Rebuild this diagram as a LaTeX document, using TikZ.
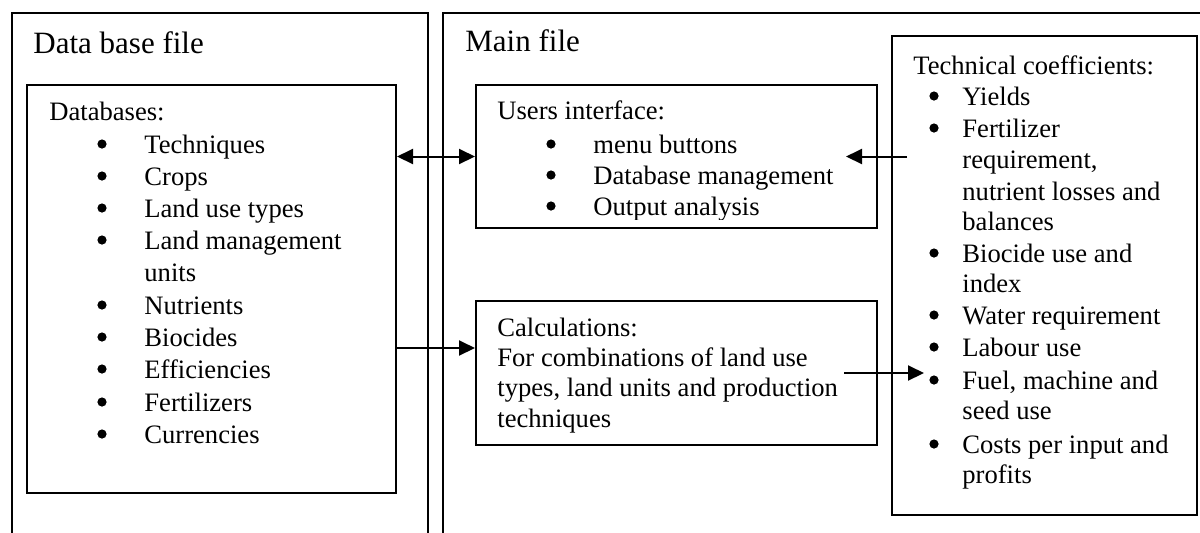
\documentclass[tikz,border=0pt]{standalone}
\usepackage{fontspec}
\setmainfont{Liberation Serif}
\usetikzlibrary{fit,calc,arrows.meta}
\begin{document}
\begin{tikzpicture}[x=0.5pt,y=-0.5pt,
  box/.style={draw, line width=1pt, inner sep=0pt},
  txt/.style={anchor=base west, inner sep=0pt, font=\fontsize{13.3pt}{16pt}\selectfont},
  ttl/.style={anchor=base west, inner sep=0pt, font=\fontsize{15.5pt}{18pt}\selectfont},
  dot/.style={circle, fill=black, inner sep=0pt, minimum size=4.6pt},
  conn/.style={line width=1pt, -{Triangle[length=8pt,width=7.5pt]}},
  connboth/.style={line width=1pt, {Triangle[length=8pt,width=7.5pt]}-{Triangle[length=8pt,width=7.5pt]}}]
\useasboundingbox (0,0) rectangle (1200,532);
\clip (0,0) rectangle (1200,532);

% outer frames
\node[box, fit={(12,13)(428,560)}] (dbfile) {};
\node[box, fit={(443,13)(1230,560)}] (mainfile) {};
\node[ttl] (dbtitle) at (33,53) {Data base file};
\node[ttl] (maintitle) at (465,51) {Main file};

% inner boxes
\node[box, fit={(27,85)(396,493)}] (db) {};
\node[box, fit={(476,85)(877,228)}] (ui) {};
\node[box, fit={(476,301)(877,445)}] (calc) {};
\node[box, fit={(892,36)(1197,515)}] (tc) {};

% Databases text
\node[txt] (dbhead) at (49,120) {Databases:};
\foreach \yy/\bb/\tt [count=\i] in {153/1/Techniques, 185/1/Crops, 217/1/Land use types, 249/1/Land management, 281/0/units, 314/1/Nutrients, 346/1/Biocides, 378/1/Efficiencies, 411/1/Fertilizers, 443/1/Currencies}{
  \node[txt] (dbl\i) at (144,\yy) {\tt};
  \ifnum\bb=1 \node[dot] (dbb\i) at (102,\yy-9) {};\fi
}

% Users interface text (clipped at bottom as in the original)
\begin{scope}
\clip (476,85) rectangle (877,219);
\node[txt] (uihead) at (497,119) {Users interface:};
\foreach \yy/\tt [count=\i] in {153/menu buttons, 184/Database management, 215/Output analysis}{
  \node[txt] (uil\i) at (593,\yy) {\tt};
  \node[dot] (uib\i) at (551,\yy-9) {};
}
\end{scope}

% Calculations text
\node[txt] (calchead) at (497,336) {Calculations:};
\node[txt] (calc1) at (497,366) {For combinations of land use};
\node[txt] (calc2) at (497,396) {types, land units and production};
\node[txt] (calc3) at (497,427) {techniques};

% Technical coefficients text
\node[txt] (tchead) at (913,74) {Technical coefficients:};
\foreach \yy/\bb/\tt [count=\i] in {105/1/Yields, 137/1/Fertilizer, {168/0/{requirement,}}, 200/0/nutrient losses and, 230/0/balances, 262/1/Biocide use and, 292/0/index, 324/1/Water requirement, 356/1/Labour use, {389/1/{Fuel, machine and}}, 419/0/seed use, 453/1/Costs per input and, 483/0/profits}{
  \node[txt] (tcl\i) at (962,\yy) {\tt};
  \ifnum\bb=1 \node[dot] (tcb\i) at (934,\yy-9) {};\fi
}

% connectors
\draw[connboth] (db.east |- ui.west) -- (ui.west);
\coordinate (tcout) at ($(tc.west |- ui.west)+(16,0)$);
\coordinate (uiin) at ($(ui.east)+(-32,0)$);
\draw[conn] (tcout) -- (uiin);
\coordinate (calcin) at ($(calc.north west)+(0,48)$);
\draw[conn] (db.east |- calcin) -- (calcin);
\coordinate (calcout) at ($(calc.east)+(-34,0)$);
\coordinate (tcin) at ($(tc.west |- calc.east)+(33,0)$);
\draw[conn] (calcout) -- (tcin);
\end{tikzpicture}
\end{document}
